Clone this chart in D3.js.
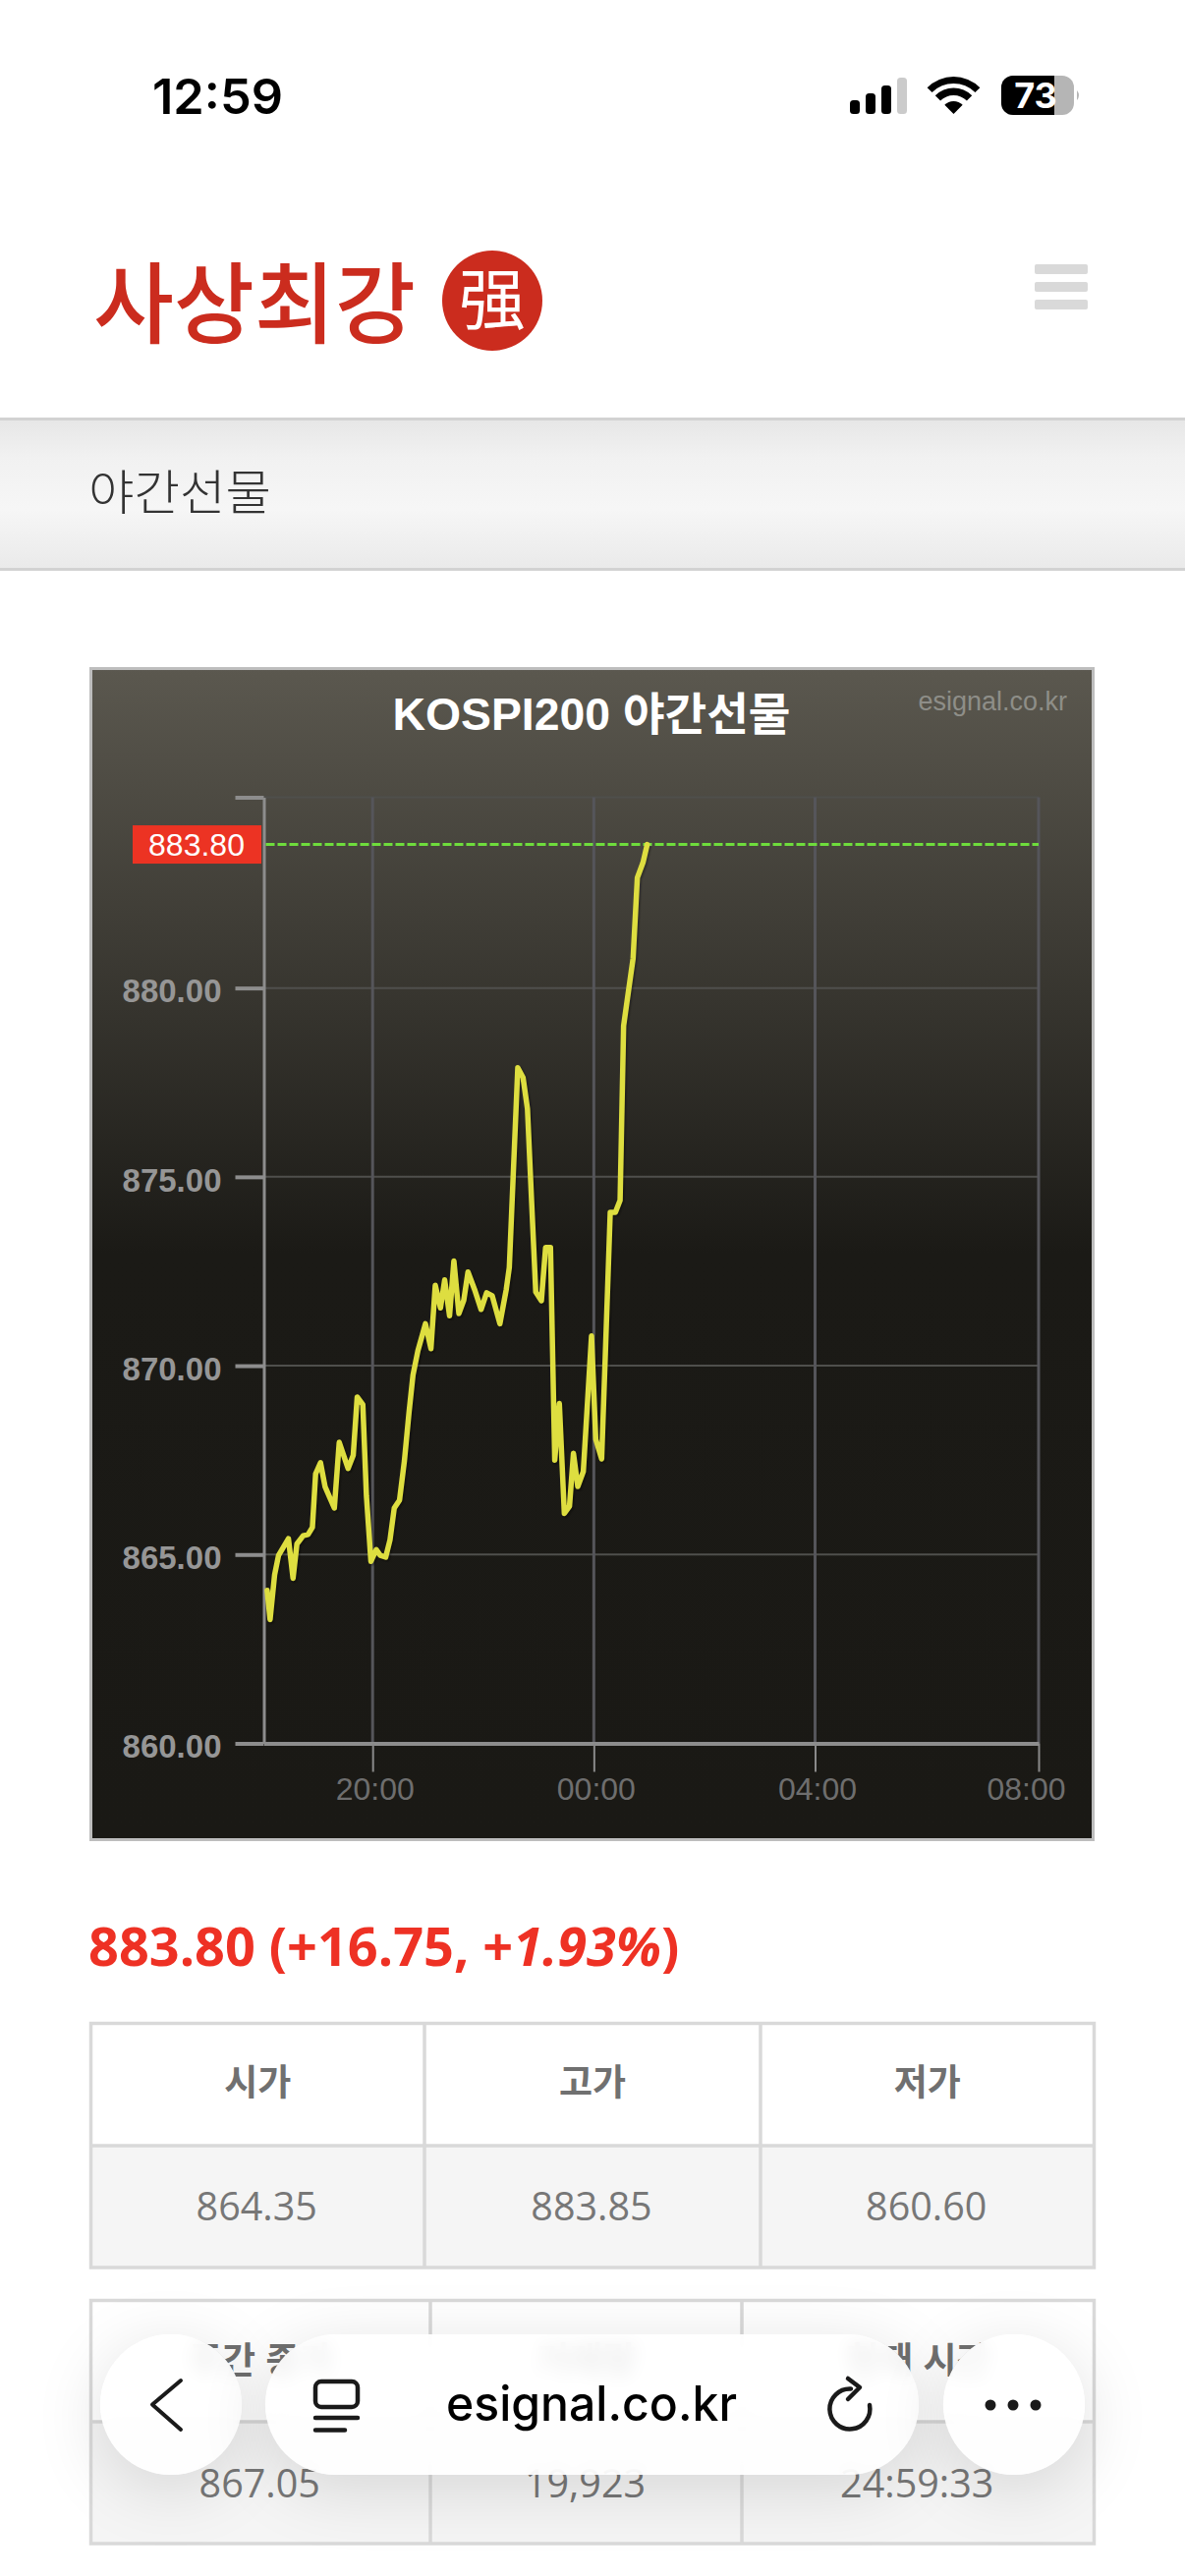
<!DOCTYPE html>
<html lang="ko">
<head>
<meta charset="utf-8">
<title>KOSPI200 야간선물</title>
<script src="https://cdn.jsdelivr.net/npm/d3@7"></script>
<style>
  html, body { margin: 0; padding: 0; background: #fff; }
  body { width: 1206px; height: 2622px; position: relative; overflow: hidden; }
  svg { position: absolute; left: 0; top: 0; display: block; }
  .pill {
    position: absolute; top: 2376px; height: 143px; border-radius: 72px;
    background: rgba(255,255,255,0.88);
    -webkit-backdrop-filter: blur(9px); backdrop-filter: blur(9px);
    box-shadow: 0 14px 70px rgba(0,0,0,0.13);
  }
</style>
</head>
<body>
<svg id="page" width="1206" height="2622"></svg>
<div class="pill" style="left:102px;width:144px"></div>
<div class="pill" style="left:270px;width:665px"></div>
<div class="pill" style="left:960px;width:144px"></div>
<svg id="toolbar" width="1206" height="2622"></svg>
<script>
// Night session quotes: minutes after 18:00 and the traded price
const sessionMinutes = [5.6,8.8,13.7,18,28.7,33.7,37.9,44.7,50,54.7,58.2,63.5,68.5,78.5,83.8,93.4,99,103.3,109.4,113.3,118.2,124,128.3,134.2,138.9,143.5,149.2,154.5,159.5,163.8,169.1,177.3,183.3,188,193.6,198.2,203.5,208.2,213.6,218.9,223.5,230.6,237.7,243.7,249.8,258.1,265,268.3,277.5,283.2,288,292.5,297,303.1,307.7,313,315.5,317.6,322.6,328,333.6,337.9,342.6,348.6,357.5,362.1,368.5,372.4,377.8,383.4,388.5,392.3,402.6,407.2,413.3,417.9];
const sessionPrices = [864.05,863.28,864.46,864.98,865.42,864.37,865.28,865.5,865.53,865.72,867.14,867.43,866.79,866.23,867.97,867.28,867.63,869.17,868.97,866.56,864.82,865.13,864.98,864.93,865.39,866.23,866.44,867.48,868.76,869.75,870.39,871.11,870.45,872.13,871.53,872.27,871.32,872.77,871.38,871.73,872.48,872.02,871.49,871.93,871.85,871.11,872.02,872.6,877.89,877.63,876.8,874.35,871.95,871.72,873.13,873.13,870.1,867.5,869,866.09,866.28,867.68,866.8,867.2,870.79,868.05,867.53,870.24,874.06,874.06,874.38,879,880.79,882.92,883.32,883.8];
const lastPrice = 883.8;

const priceTicks = [860,865,870,875,880];
const priceTop = 885.05;
const timeTicks = [120,360,600,842.5];
const timeLabels = ["20:00","00:00","04:00","08:00"];

const quoteLine = ["883.80 (+16.75, +", "1.93%", ")"];
const upperHeaders = ["시가","고가","저가"];
const upperValues = ["864.35","883.85","860.60"];
const lowerHeaders = ["주간 종가","거래량","현재 시간"];
const lowerValues = ["867.05","19,923","24:59:33"];

const KR = "'Noto Sans CJK KR','Noto Sans',sans-serif";
const ARIAL = "'Liberation Sans',Arial,sans-serif";
const page = d3.select("#page");
const defs = page.append("defs");

function gradient(id, x1, y1, x2, y2, stops) {
  const g = defs.append("linearGradient").attr("id", id)
    .attr("gradientUnits", "userSpaceOnUse")
    .attr("x1", x1).attr("y1", y1).attr("x2", x2).attr("y2", y2);
  stops.forEach(([o, c]) => g.append("stop").attr("offset", o).attr("stop-color", c));
}
gradient("band", 0, 428, 0, 578, [[0,"#e7e7e7"],[0.25,"#f1f1f1"],[0.6,"#f6f6f6"],[1,"#eaeaea"]]);
gradient("plate", 0, 680, 0, 1872, [[0,"#5b584f"],[0.5,"#1b1a16"],[1,"#1a1915"]]);

/* ---------- status bar ---------- */
page.append("text").attr("x", 155).attr("y", 116).text("12:59")
  .attr("font-family", "Inter,Roboto,sans-serif").attr("font-weight", 600).attr("font-size", 50)
  .attr("fill", "#000").attr("textLength", 133).attr("lengthAdjust", "spacingAndGlyphs");

const signalBars = [[865,102,"#000"],[881,95,"#000"],[897,87,"#000"],[913,79,"#cbcbcb"]];
page.selectAll("rect.signal").data(signalBars).join("rect").attr("class", "signal")
  .attr("x", d => d[0]).attr("y", d => d[1]).attr("width", 10).attr("height", d => 116 - d[1])
  .attr("rx", 3.5).attr("fill", d => d[2]);

const wifi = d3.arc().startAngle(-Math.PI / 4).endAngle(Math.PI / 4);
[[0,13],[19,26.5],[31,38]].forEach(([r0, r1]) =>
  page.append("path").attr("transform", "translate(970.5,116)")
    .attr("d", wifi({ innerRadius: r0, outerRadius: r1 })).attr("fill", "#000"));

page.append("rect").attr("x", 1019).attr("y", 77).attr("width", 74).attr("height", 40).attr("rx", 12).attr("fill", "#b5b5b5");
page.append("path").attr("d", "M1073 77H1031a12 12 0 0 0 -12 12V105a12 12 0 0 0 12 12H1073Z").attr("fill", "#000");
page.append("path").attr("d", "M1096 92q4 5 0 10Z").attr("fill", "#b5b5b5");
page.append("text").attr("x", 1054).attr("y", 110).attr("text-anchor", "middle").text("73")
  .attr("font-family", "Inter,Roboto,sans-serif").attr("font-weight", 700).attr("font-size", 36).attr("fill", "#fff");

/* ---------- site header ---------- */
page.append("text").attr("x", 95).attr("y", 342).text("사상최강")
  .attr("font-family", KR).attr("font-weight", 500).attr("font-size", 90).attr("fill", "#cb2c1e")
  .attr("textLength", 328).attr("lengthAdjust", "spacingAndGlyphs");
page.append("circle").attr("cx", 501).attr("cy", 306).attr("r", 51).attr("fill", "#cb2c1e");
page.append("text").attr("x", 501).attr("y", 330).attr("text-anchor", "middle").text("强")
  .attr("font-family", "'Noto Sans CJK SC',sans-serif").attr("font-size", 68).attr("fill", "#fff");

page.selectAll("rect.menu").data([269,287,305]).join("rect").attr("class", "menu")
  .attr("x", 1053).attr("y", d => d).attr("width", 54).attr("height", 10).attr("rx", 2).attr("fill", "#d9d9d9");

page.append("rect").attr("x", 0).attr("y", 428).attr("width", 1206).attr("height", 150).attr("fill", "url(#band)");
page.append("rect").attr("x", 0).attr("y", 425).attr("width", 1206).attr("height", 3).attr("fill", "#d2d2d2");
page.append("rect").attr("x", 0).attr("y", 578).attr("width", 1206).attr("height", 3).attr("fill", "#d2d2d2");
page.append("text").attr("x", 90).attr("y", 519).text("야간선물")
  .attr("font-family", KR).attr("font-weight", 300).attr("font-size", 49).attr("fill", "#333")
  .attr("textLength", 186).attr("lengthAdjust", "spacingAndGlyphs");

/* ---------- chart plate ---------- */
page.append("rect").attr("x", 92.5).attr("y", 680.5).attr("width", 1020).attr("height", 1192)
  .attr("fill", "url(#plate)").attr("stroke", "#bdbdbd").attr("stroke-width", 3);

const x = d3.scaleLinear().domain([2, 842.5]).range([268.5, 1057]);
const y = d3.scaleLinear().domain([860, priceTop]).range([1774.5, 811.5]);

// gridlines
const grid = page.append("g");
grid.selectAll("line.h").data([...priceTicks.slice(1), priceTop]).join("line").attr("class", "h")
  .attr("x1", x(2)).attr("x2", x(842.5)).attr("y1", y).attr("y2", y)
  .attr("stroke", "#4f4f4c").attr("stroke-width", 2);
grid.selectAll("line.v").data(timeTicks).join("line").attr("class", "v")
  .attr("x1", x).attr("x2", x).attr("y1", y(priceTop)).attr("y2", y(860))
  .attr("stroke", "#55555a").attr("stroke-width", 3);

// price axis
const priceAxis = page.append("g").attr("transform", `translate(${x(2)},0)`)
  .call(d3.axisLeft(y).tickValues([...priceTicks, priceTop]).tickSize(29).tickSizeOuter(0).tickPadding(14)
    .tickFormat(d => d === priceTop ? "" : d3.format(".2f")(d)));
priceAxis.select(".domain").attr("stroke", "#8d8d8d").attr("stroke-width", 3);
priceAxis.selectAll(".tick line").attr("stroke", "#8d8d8d").attr("stroke-width", 4);
priceAxis.selectAll(".tick text").attr("fill", "#969696").attr("font-family", ARIAL)
  .attr("font-weight", 700).attr("font-size", 33).attr("dy", "0.43em");

// time axis
const timeAxis = page.append("g").attr("transform", `translate(0,${y(860)})`)
  .call(d3.axisBottom(x).tickValues(timeTicks).tickSize(29).tickSizeOuter(0).tickPadding(5)
    .tickFormat((d, i) => timeLabels[i]));
timeAxis.select(".domain").attr("stroke", "#8d8d8d").attr("stroke-width", 4);
timeAxis.selectAll(".tick line").attr("stroke", "#8a8a8a").attr("stroke-width", 2);
timeAxis.selectAll(".tick text").attr("fill", "#6e6e6e").attr("font-family", ARIAL)
  .attr("font-size", 32).attr("dy", "0.72em").attr("x", (d, i) => i === 3 ? -13 : 2);

// current price level and its flag
page.append("line").attr("x1", x(2) + 2).attr("x2", x(842.5)).attr("y1", y(lastPrice)).attr("y2", y(lastPrice))
  .attr("stroke", "#6edc3c").attr("stroke-width", 3).attr("stroke-dasharray", "9 3");
page.append("rect").attr("x", 135).attr("y", y(lastPrice) - 19.5).attr("width", 131).attr("height", 39).attr("fill", "#ec3323");
page.append("text").attr("x", 200).attr("y", y(lastPrice) + 11).attr("text-anchor", "middle").text(d3.format(".2f")(lastPrice))
  .attr("font-family", ARIAL).attr("font-size", 32).attr("fill", "#fff");

// price line with a soft drop shadow
const priceLine = d3.line().x((d, i) => x(sessionMinutes[i])).y(d => y(d));
[[8, 0.05], [6.5, 0.08], [5, 0.12]].forEach(([w, o]) =>
  page.append("path").attr("d", priceLine(sessionPrices)).attr("transform", "translate(1.5,1.5)")
    .attr("fill", "none").attr("stroke", "#000").attr("stroke-opacity", o).attr("stroke-width", w)
    .attr("stroke-linejoin", "round"));
page.append("path").attr("d", priceLine(sessionPrices)).attr("fill", "none")
  .attr("stroke", "#dede40").attr("stroke-width", 5.5).attr("stroke-linejoin", "round").attr("stroke-linecap", "round");

// titles
page.append("text").attr("x", 602).attr("y", 743).attr("text-anchor", "middle").text("KOSPI200 야간선물")
  .attr("font-family", `${ARIAL.split(",")[0]},${KR}`).attr("font-weight", 700).attr("font-size", 46).attr("fill", "#fff")
  .attr("textLength", 405).attr("lengthAdjust", "spacingAndGlyphs");
page.append("text").attr("x", 1086).attr("y", 723).attr("text-anchor", "end").text("esignal.co.kr")
  .attr("font-family", ARIAL).attr("font-size", 27).attr("fill", "#8e8e88");

/* ---------- quote line ---------- */
const quote = page.append("text").attr("x", 90).attr("y", 2001)
  .attr("font-family", "'Open Sans',sans-serif").attr("font-weight", 700).attr("font-size", 54).attr("fill", "#ee3124");
quoteLine.forEach((t, i) => quote.append("tspan").text(t).attr("font-style", i === 1 ? "italic" : "normal"));

/* ---------- stat tables ---------- */
function statTable(top, mid, bottom, splits, headers, values, headerY, valueY) {
  const left = 92.5, right = 1113.5;
  const g = page.append("g");
  g.append("rect").attr("x", left).attr("y", mid).attr("width", right - left).attr("height", bottom - mid).attr("fill", "#f5f5f5");
  g.append("rect").attr("x", left).attr("y", top).attr("width", right - left).attr("height", bottom - top)
    .attr("fill", "none").attr("stroke", "#d9d9d9").attr("stroke-width", 3.5);
  g.append("line").attr("x1", left).attr("x2", right).attr("y1", mid).attr("y2", mid).attr("stroke", "#d9d9d9").attr("stroke-width", 3.5);
  g.selectAll("line.split").data(splits).join("line").attr("class", "split")
    .attr("x1", d => d).attr("x2", d => d).attr("y1", top).attr("y2", bottom).attr("stroke", "#d9d9d9").attr("stroke-width", 3.5);
  const edges = [left, ...splits, right];
  const center = i => (edges[i] + edges[i + 1]) / 2;
  g.selectAll("text.h").data(headers).join("text").attr("class", "h")
    .attr("x", (d, i) => center(i)).attr("y", headerY).attr("text-anchor", "middle").text(d => d)
    .attr("font-family", KR).attr("font-weight", 700).attr("font-size", 37).attr("fill", "#707070");
  g.selectAll("text.v").data(values).join("text").attr("class", "v")
    .attr("x", (d, i) => center(i) - 1).attr("y", valueY).attr("text-anchor", "middle").text(d => d)
    .attr("font-family", "'Open Sans',sans-serif").attr("font-size", 39.5).attr("fill", "#777");
}
statTable(2059.5, 2184, 2308, [432, 774], upperHeaders, upperValues, 2133, 2260);
statTable(2341.5, 2465, 2589, [438, 755], lowerHeaders, lowerValues, 2416, 2542);

/* ---------- browser toolbar ---------- */
const bar = d3.select("#toolbar");
const icon = { fill: "none", stroke: "#1a1a1a", "stroke-linecap": "round", "stroke-linejoin": "round" };
function drawIcon(sel, w) { Object.entries(icon).forEach(([k, v]) => sel.attr(k, v)); sel.attr("stroke-width", w); return sel; }
drawIcon(bar.append("path").attr("d", "M184 2423L155 2447.5L184 2473"), 4);
drawIcon(bar.append("rect").attr("x", 321).attr("y", 2424).attr("width", 43).attr("height", 26).attr("rx", 6), 4.5);
drawIcon(bar.append("path").attr("d", "M321 2461H364M321 2473.5H351"), 4.5);
bar.append("text").attr("x", 602).attr("y", 2464).attr("text-anchor", "middle").text("esignal.co.kr")
  .attr("font-family", "Inter,Roboto,sans-serif").attr("font-weight", 500).attr("font-size", 49).attr("fill", "#000")
  .attr("textLength", 296).attr("lengthAdjust", "spacingAndGlyphs");
drawIcon(bar.append("path").attr("d", "M885 2448A20.5 20.5 0 1 1 866 2431.5M863 2421L875 2430L863 2442"), 4.5);
bar.selectAll("circle").data([1008, 1031, 1054]).join("circle")
  .attr("cx", d => d).attr("cy", 2448).attr("r", 5.5).attr("fill", "#1a1a1a");
</script>
</body>
</html>
